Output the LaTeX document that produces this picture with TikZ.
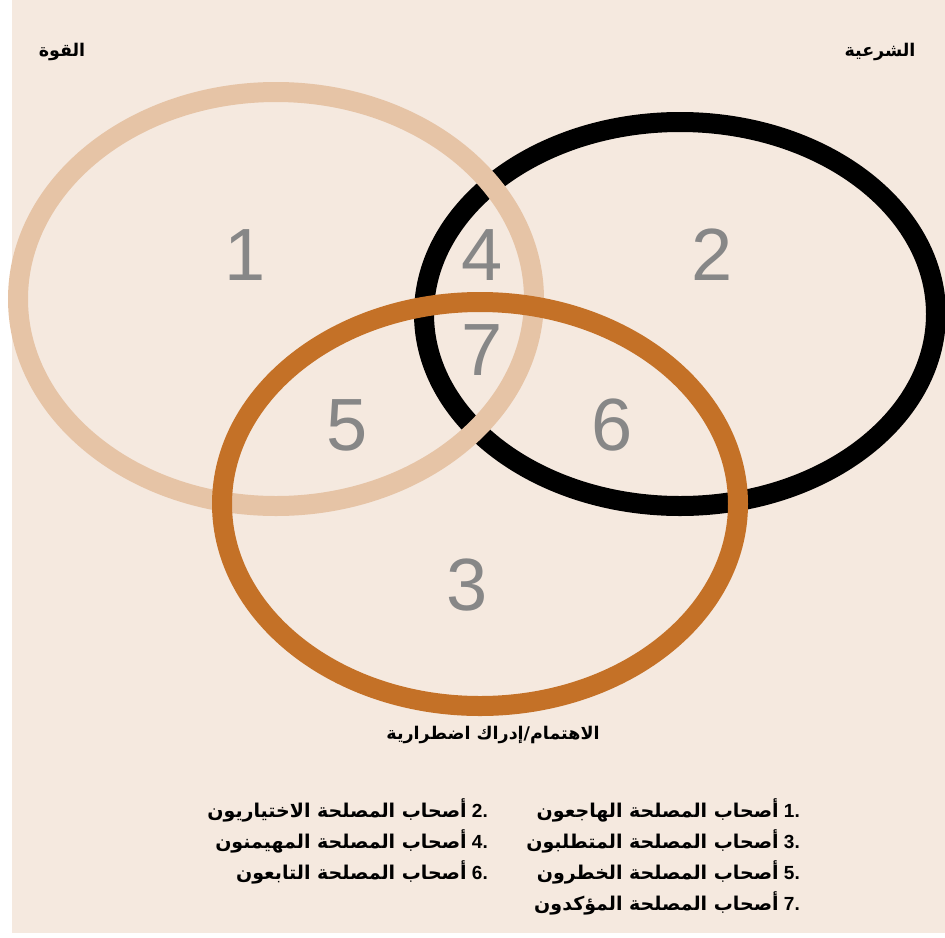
\documentclass[tikz,border=0pt]{standalone}
\usepackage{fontspec}
\setmainfont{Liberation Sans}
\newfontfamily\arabicfont[Script=Arabic]{DejaVu Sans}
\TeXXeTstate=1
\definecolor{bgc}{HTML}{F5E9DF}
\definecolor{tanc}{HTML}{E6C4A6}
\definecolor{orangec}{HTML}{C47127}
\definecolor{numc}{HTML}{878787}
\tikzset{
  ring/.style={line width=20pt},
  num/.style={text=numc, font=\fontsize{74}{74}\selectfont, inner sep=0pt},
  title/.style={font=\arabicfont\bfseries\fontsize{17.5}{20}\selectfont, inner sep=0pt},
  legend/.style={font=\bfseries\fontsize{19}{22}\selectfont, inner sep=0pt, anchor=east},
}
\newcommand{\ar}[1]{{\arabicfont\beginR #1\endR}}
\newcommand{\lnum}[1]{\beginL #1.\endL}
\begin{document}
\begin{tikzpicture}[x=1pt,y=-1pt]
\useasboundingbox (0,0) rectangle (945,937);
\fill[bgc] (12,0) rectangle (945,933);
\draw[ring, black] (680,314) ellipse [x radius=256, y radius=192];
\draw[ring, tanc] (276,299) ellipse [x radius=258, y radius=207];
\draw[ring, orangec] (480,504) ellipse [x radius=258, y radius=202];

\node[num] (n1) at (245,255) {1};
\node[num] (n2) at (712,255) {2};
\node[num] (n4) at (482,255) {4};
\node[num] (n7) at (482,350) {7};
\node[num] (n5) at (347,425) {5};
\node[num] (n6) at (612,425) {6};
\node[num] (n3) at (467,585) {3};

\node[title] (power) at (62,52) {\beginR القوة\endR};
\node[title] (legit) at (880,52) {\beginR الشرعية\endR};
\node[title] (urg) at (493,735) {\beginR الاهتمام/إدراك اضطرارية\endR};

\node[legend] (l1) at (800,810) {\ar{أصحاب المصلحة الهاجعون}\ \lnum{1}};
\node[legend] (l3) at (800,841) {\ar{أصحاب المصلحة المتطلبون}\ \lnum{3}};
\node[legend] (l5) at (800,872) {\ar{أصحاب المصلحة الخطرون}\ \lnum{5}};
\node[legend] (l7) at (800,903) {\ar{أصحاب المصلحة المؤكدون}\ \lnum{7}};
\node[legend] (l2) at (488,810) {\ar{أصحاب المصلحة الاختياريون}\ \lnum{2}};
\node[legend] (l4) at (488,841) {\ar{أصحاب المصلحة المهيمنون}\ \lnum{4}};
\node[legend] (l6) at (488,872) {\ar{أصحاب المصلحة التابعون}\ \lnum{6}};
\end{tikzpicture}
\end{document}
